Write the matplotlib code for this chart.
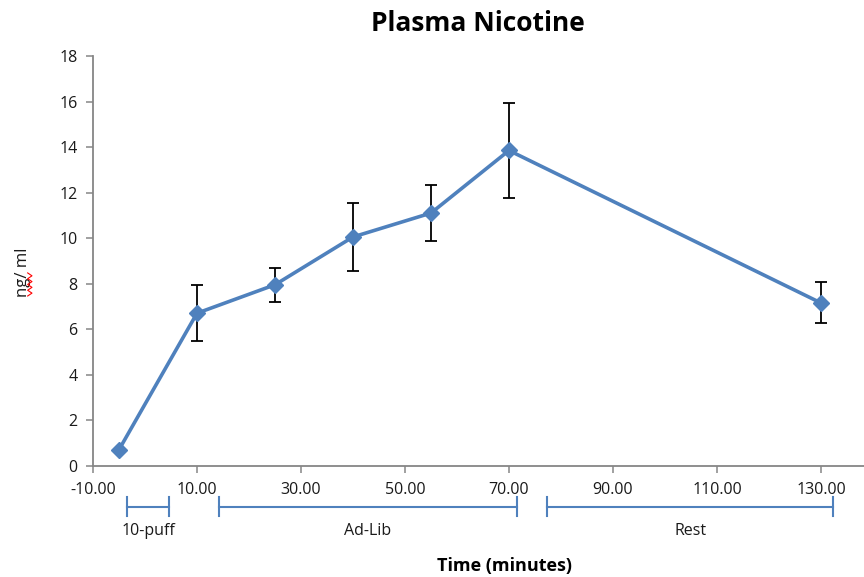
import matplotlib.pyplot as plt
import matplotlib.transforms as mtransforms
import numpy as np

plt.rcParams['font.family'] = ['Open Sans', 'DejaVu Sans']

# plasma nicotine (ng/ml) over time, mean +/- error
time_min = [-5, 10, 25, 40, 55, 70, 130]
nicotine = [0.7, 6.7, 7.95, 10.05, 11.1, 13.85, 7.15]
err = [0.0, 1.23, 0.74, 1.48, 1.23, 2.1, 0.9]

# study phases along the time axis
phases = ['10-puff', 'Ad-Lib', 'Rest']
phase_start = [-3.4, 14.2, 77.4]
phase_end = [4.7, 71.6, 132.4]

blue = '#4F81BD'
grey = '#868686'
txt = '#1a1a1a'

fig = plt.figure(figsize=(8.64, 5.77), dpi=100)
ax = fig.add_axes([0.1076, 0.1929, 0.9028, 0.71])

ax.errorbar(time_min, nicotine, yerr=err, fmt='none', ecolor='black',
            elinewidth=1.3, capsize=4.5, capthick=1.3, zorder=2)
ax.plot(time_min, nicotine, color=blue, lw=2.6, marker='D', ms=8.5,
        mec=blue, mfc=blue, zorder=3)

ax.set_xlim(-10, 140)
ax.set_ylim(0, 18)
ax.set_xticks(np.arange(-10, 131, 20))
ax.set_xticklabels(['{:.2f}'.format(v) for v in np.arange(-10, 131, 20)])
ax.set_yticks(np.arange(0, 19, 2))

for s in ['top', 'right']:
    ax.spines[s].set_visible(False)
for s in ['left', 'bottom']:
    ax.spines[s].set_color(grey)
    ax.spines[s].set_linewidth(1.3)
ax.tick_params(axis='both', direction='out', length=5, width=1.1, color=grey,
               labelsize=11.5, labelcolor=txt)
ax.tick_params(axis='x', pad=7)
ax.tick_params(axis='y', pad=6)

ax.set_title('Plasma Nicotine', fontsize=19, fontweight='bold', pad=18, x=0.494)
ax.set_xlabel('Time (minutes)', fontsize=13, fontweight='bold', labelpad=0, va='center')
ax.xaxis.set_label_coords(0.528, -0.245)
ax.set_ylabel('ng/ ml', fontsize=12, labelpad=0, color=txt)
ax.yaxis.set_label_coords(-0.08, 0.473)

# phase brackets under the axis
trans = mtransforms.blended_transform_factory(ax.transData, ax.transAxes)
for name, x0, x1 in zip(phases, phase_start, phase_end):
    ax.plot([x0, x1], [-0.1, -0.1], color=blue, lw=1.5, transform=trans, clip_on=False)
    for xe in (x0, x1):
        ax.plot([xe, xe], [-0.077, -0.123], color=blue, lw=1.5, transform=trans,
                clip_on=False)
    ax.text((x0 + x1) / 2, -0.159, name, transform=trans, ha='center', va='center',
            fontsize=11.5, color=txt)

# spell-check squiggle next to the axis label
zx = np.array([0, 1, 0, 1, 0, 1, 0, 1, 0]) * 0.005 + 0.032
zy = 0.527 - np.arange(9) * 0.005
fig.add_artist(plt.Line2D(zx, zy, color='red', lw=0.8))

fig.savefig('out.png', dpi=100)
